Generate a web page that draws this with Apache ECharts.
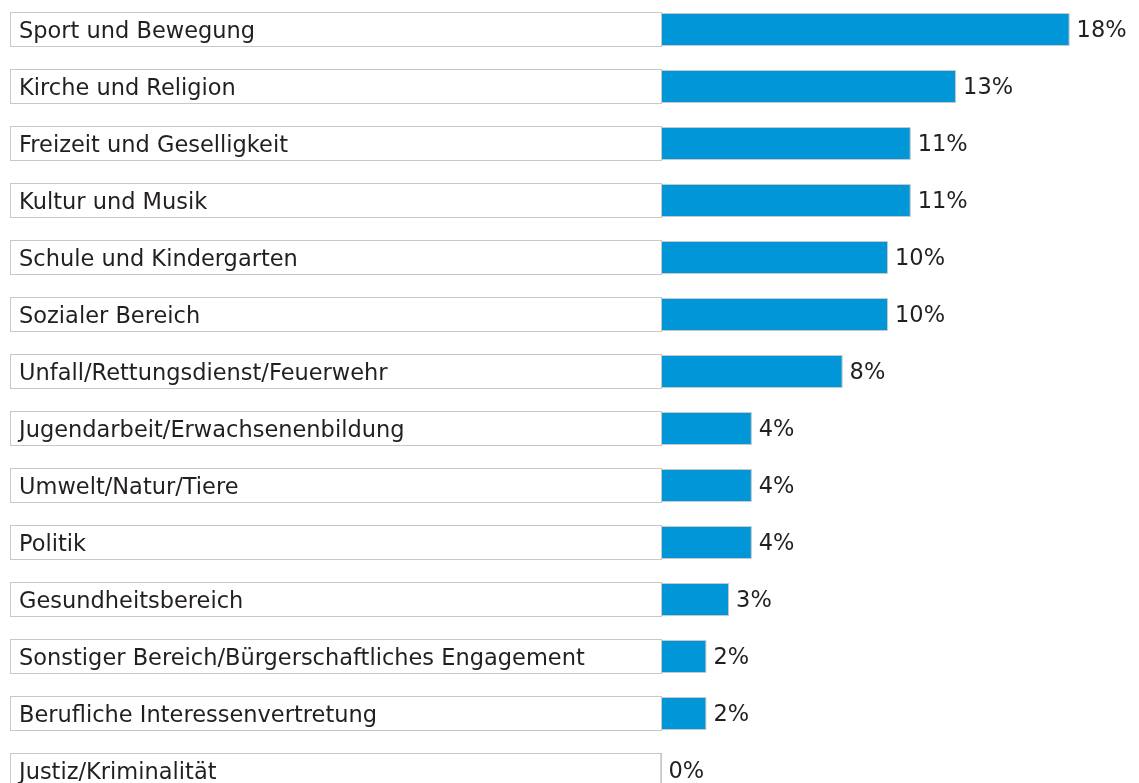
<!DOCTYPE html>
<html>
<head>
<meta charset="utf-8">
<script src="https://cdn.jsdelivr.net/npm/echarts@6/dist/echarts.min.js"></script>
<style>
html,body{margin:0;padding:0;background:#fff;overflow:hidden;width:1139px;height:783px;}
#chart{width:1139px;height:800px;}
</style>
</head>
<body>
<div id="chart"></div>
<script>
const categories = [
  'Sport und Bewegung',
  'Kirche und Religion',
  'Freizeit und Geselligkeit',
  'Kultur und Musik',
  'Schule und Kindergarten',
  'Sozialer Bereich',
  'Unfall/Rettungsdienst/Feuerwehr',
  'Jugendarbeit/Erwachsenenbildung',
  'Umwelt/Natur/Tiere',
  'Politik',
  'Gesundheitsbereich',
  'Sonstiger Bereich/Bürgerschaftliches Engagement',
  'Berufliche Interessenvertretung',
  'Justiz/Kriminalität'
];
const shares = [18, 13, 11, 11, 10, 10, 8, 4, 4, 4, 3, 2, 2, 0];

const FONT = '"DejaVu Sans", sans-serif';
const chart = echarts.init(document.getElementById('chart'), null, {renderer: 'canvas'});
chart.setOption({
  animation: false,
  backgroundColor: '#ffffff',
  grid: {left: 661, top: 1, width: 454, height: 798, containLabel: false},
  xAxis: {
    type: 'value', min: 0, max: 20,
    show: false
  },
  yAxis: {
    type: 'category',
    inverse: true,
    data: categories,
    axisLine: {show: false},
    axisTick: {show: false},
    splitLine: {show: false},
    axisLabel: {
      margin: 0,
      align: 'right',
      verticalAlign: 'middle',
      formatter: '{a|{value}}',
      backgroundColor: '#ffffff',
      borderColor: '#c8c8c8',
      borderWidth: 1,
      padding: [5, 8, 0, 8],
      rich: {
        a: {
          width: 634,
          height: 28,
          lineHeight: 28,
          align: 'left',
          fontSize: 22.5,
          fontFamily: FONT,
          color: '#231f20'
        }
      }
    }
  },
  series: [{
    type: 'bar',
    data: shares,
    barWidth: 33,
    itemStyle: {color: '#0096d8', borderColor: '#c8c8c8', borderWidth: 1},
    label: {
      show: true,
      position: 'right',
      distance: 7,
      offset: [0, 2],
      formatter: function (p) { return p.value + '%'; },
      fontSize: 22.5,
      fontFamily: FONT,
      color: '#231f20'
    }
  }]
});
</script>
</body>
</html>
